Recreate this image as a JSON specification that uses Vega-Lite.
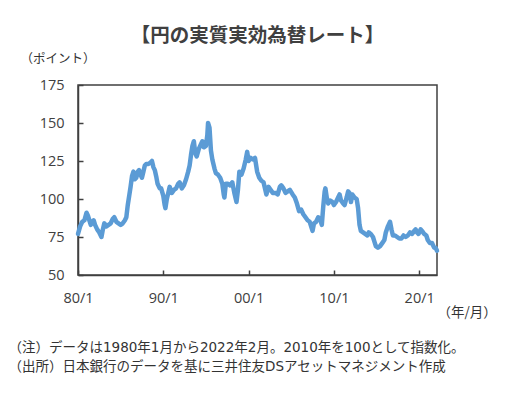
{
  "$schema": "https://vega.github.io/schema/vega-lite/v6.json",
  "width": 359,
  "height": 190,
  "autosize": "none",
  "padding": {"left": 78, "top": 85, "right": 74, "bottom": 121},
  "background": "white",
  "config": {
    "font": "Noto Sans CJK JP",
    "view": {"stroke": "#404040", "strokeWidth": 1.5},
    "axis": {"domainColor": "#404040", "domainWidth": 1.5, "tickColor": "#404040", "tickWidth": 1.5, "grid": false, "labelColor": "#404040", "labelFontSize": 14.5, "labelFont": "Open Sans", "labelFlush": false, "titleFontWeight": "normal", "titleColor": "#333333"}
  },
  "title": {"text": "【円の実質実効為替レート】", "fontSize": 19.5, "fontWeight": "bold", "color": "#404040", "anchor": "middle", "offset": 6},
  "data": {"values": [
    {"date": "1980-01-01", "value": 77},
    {"date": "1980-04-01", "value": 82},
    {"date": "1980-07-01", "value": 85},
    {"date": "1980-10-01", "value": 86},
    {"date": "1981-01-01", "value": 91},
    {"date": "1981-03-01", "value": 89},
    {"date": "1981-05-01", "value": 86},
    {"date": "1981-07-01", "value": 83},
    {"date": "1981-09-01", "value": 85},
    {"date": "1981-11-01", "value": 86},
    {"date": "1982-01-01", "value": 83},
    {"date": "1982-04-01", "value": 80},
    {"date": "1982-07-01", "value": 78},
    {"date": "1982-10-01", "value": 75},
    {"date": "1982-12-01", "value": 80},
    {"date": "1983-02-01", "value": 84},
    {"date": "1983-05-01", "value": 82},
    {"date": "1983-08-01", "value": 83},
    {"date": "1983-11-01", "value": 84},
    {"date": "1984-02-01", "value": 87},
    {"date": "1984-04-01", "value": 88},
    {"date": "1984-07-01", "value": 85},
    {"date": "1984-10-01", "value": 84},
    {"date": "1985-01-01", "value": 83},
    {"date": "1985-04-01", "value": 84},
    {"date": "1985-07-01", "value": 86},
    {"date": "1985-09-01", "value": 88},
    {"date": "1985-11-01", "value": 96},
    {"date": "1986-01-01", "value": 102},
    {"date": "1986-03-01", "value": 108},
    {"date": "1986-05-01", "value": 115},
    {"date": "1986-07-01", "value": 118},
    {"date": "1986-09-01", "value": 113},
    {"date": "1986-11-01", "value": 114},
    {"date": "1987-01-01", "value": 118},
    {"date": "1987-03-01", "value": 119},
    {"date": "1987-05-01", "value": 116},
    {"date": "1987-07-01", "value": 114},
    {"date": "1987-09-01", "value": 118},
    {"date": "1987-11-01", "value": 122},
    {"date": "1988-01-01", "value": 123},
    {"date": "1988-04-01", "value": 123},
    {"date": "1988-07-01", "value": 124},
    {"date": "1988-09-01", "value": 125},
    {"date": "1988-11-01", "value": 121},
    {"date": "1989-01-01", "value": 119},
    {"date": "1989-03-01", "value": 115},
    {"date": "1989-05-01", "value": 110},
    {"date": "1989-08-01", "value": 107},
    {"date": "1989-10-01", "value": 107},
    {"date": "1990-01-01", "value": 102},
    {"date": "1990-03-01", "value": 96},
    {"date": "1990-04-01", "value": 94},
    {"date": "1990-06-01", "value": 100},
    {"date": "1990-08-01", "value": 104},
    {"date": "1990-10-01", "value": 108},
    {"date": "1991-01-01", "value": 104},
    {"date": "1991-04-01", "value": 106},
    {"date": "1991-07-01", "value": 107},
    {"date": "1991-10-01", "value": 110},
    {"date": "1991-12-01", "value": 111},
    {"date": "1992-03-01", "value": 107},
    {"date": "1992-06-01", "value": 109},
    {"date": "1992-09-01", "value": 113},
    {"date": "1992-12-01", "value": 118},
    {"date": "1993-02-01", "value": 122},
    {"date": "1993-04-01", "value": 129},
    {"date": "1993-06-01", "value": 135},
    {"date": "1993-08-01", "value": 138},
    {"date": "1993-10-01", "value": 130},
    {"date": "1993-12-01", "value": 128},
    {"date": "1994-03-01", "value": 133},
    {"date": "1994-06-01", "value": 136},
    {"date": "1994-08-01", "value": 138},
    {"date": "1994-10-01", "value": 134},
    {"date": "1995-01-01", "value": 135},
    {"date": "1995-03-01", "value": 142},
    {"date": "1995-04-01", "value": 150},
    {"date": "1995-06-01", "value": 147},
    {"date": "1995-08-01", "value": 132},
    {"date": "1995-10-01", "value": 126},
    {"date": "1996-01-01", "value": 120},
    {"date": "1996-03-01", "value": 117},
    {"date": "1996-06-01", "value": 116},
    {"date": "1996-09-01", "value": 114},
    {"date": "1996-12-01", "value": 110},
    {"date": "1997-02-01", "value": 103},
    {"date": "1997-03-01", "value": 101},
    {"date": "1997-05-01", "value": 110},
    {"date": "1997-08-01", "value": 110},
    {"date": "1997-11-01", "value": 109},
    {"date": "1998-02-01", "value": 111},
    {"date": "1998-05-01", "value": 104},
    {"date": "1998-08-01", "value": 98},
    {"date": "1998-10-01", "value": 106},
    {"date": "1998-12-01", "value": 118},
    {"date": "1999-03-01", "value": 116},
    {"date": "1999-06-01", "value": 120},
    {"date": "1999-09-01", "value": 126},
    {"date": "1999-11-01", "value": 131},
    {"date": "2000-01-01", "value": 125},
    {"date": "2000-04-01", "value": 127},
    {"date": "2000-07-01", "value": 126},
    {"date": "2000-10-01", "value": 127},
    {"date": "2001-01-01", "value": 118},
    {"date": "2001-04-01", "value": 114},
    {"date": "2001-07-01", "value": 112},
    {"date": "2001-10-01", "value": 111},
    {"date": "2002-02-01", "value": 103},
    {"date": "2002-05-01", "value": 108},
    {"date": "2002-08-01", "value": 106},
    {"date": "2002-11-01", "value": 104},
    {"date": "2003-03-01", "value": 104},
    {"date": "2003-06-01", "value": 103},
    {"date": "2003-09-01", "value": 108},
    {"date": "2003-11-01", "value": 109},
    {"date": "2004-02-01", "value": 107},
    {"date": "2004-05-01", "value": 104},
    {"date": "2004-08-01", "value": 105},
    {"date": "2004-11-01", "value": 106},
    {"date": "2005-03-01", "value": 103},
    {"date": "2005-06-01", "value": 101},
    {"date": "2005-09-01", "value": 97},
    {"date": "2005-12-01", "value": 92},
    {"date": "2006-03-01", "value": 93},
    {"date": "2006-06-01", "value": 90},
    {"date": "2006-09-01", "value": 88},
    {"date": "2006-12-01", "value": 86},
    {"date": "2007-03-01", "value": 85},
    {"date": "2007-05-01", "value": 82},
    {"date": "2007-07-01", "value": 79},
    {"date": "2007-09-01", "value": 84},
    {"date": "2007-12-01", "value": 85},
    {"date": "2008-03-01", "value": 88},
    {"date": "2008-06-01", "value": 86},
    {"date": "2008-08-01", "value": 83},
    {"date": "2008-10-01", "value": 95},
    {"date": "2008-12-01", "value": 105},
    {"date": "2009-01-01", "value": 107},
    {"date": "2009-03-01", "value": 101},
    {"date": "2009-05-01", "value": 97},
    {"date": "2009-08-01", "value": 99},
    {"date": "2009-11-01", "value": 98},
    {"date": "2010-01-01", "value": 96},
    {"date": "2010-04-01", "value": 98},
    {"date": "2010-07-01", "value": 101},
    {"date": "2010-09-01", "value": 103},
    {"date": "2010-11-01", "value": 99},
    {"date": "2011-02-01", "value": 97},
    {"date": "2011-04-01", "value": 96},
    {"date": "2011-07-01", "value": 101},
    {"date": "2011-09-01", "value": 105},
    {"date": "2011-11-01", "value": 104},
    {"date": "2012-01-01", "value": 98},
    {"date": "2012-03-01", "value": 103},
    {"date": "2012-06-01", "value": 101},
    {"date": "2012-09-01", "value": 100},
    {"date": "2012-11-01", "value": 94},
    {"date": "2013-01-01", "value": 83},
    {"date": "2013-03-01", "value": 79},
    {"date": "2013-06-01", "value": 78},
    {"date": "2013-09-01", "value": 77},
    {"date": "2013-12-01", "value": 76},
    {"date": "2014-02-01", "value": 78},
    {"date": "2014-05-01", "value": 77},
    {"date": "2014-08-01", "value": 75},
    {"date": "2014-10-01", "value": 72},
    {"date": "2014-12-01", "value": 69},
    {"date": "2015-03-01", "value": 68},
    {"date": "2015-06-01", "value": 69},
    {"date": "2015-09-01", "value": 71},
    {"date": "2015-12-01", "value": 73},
    {"date": "2016-02-01", "value": 78},
    {"date": "2016-05-01", "value": 82},
    {"date": "2016-08-01", "value": 85},
    {"date": "2016-10-01", "value": 80},
    {"date": "2016-12-01", "value": 76},
    {"date": "2017-03-01", "value": 76},
    {"date": "2017-06-01", "value": 75},
    {"date": "2017-09-01", "value": 74},
    {"date": "2017-12-01", "value": 74},
    {"date": "2018-03-01", "value": 76},
    {"date": "2018-06-01", "value": 75},
    {"date": "2018-09-01", "value": 76},
    {"date": "2018-12-01", "value": 78},
    {"date": "2019-03-01", "value": 77},
    {"date": "2019-06-01", "value": 79},
    {"date": "2019-08-01", "value": 80},
    {"date": "2019-10-01", "value": 78},
    {"date": "2019-12-01", "value": 77},
    {"date": "2020-03-01", "value": 80},
    {"date": "2020-05-01", "value": 79},
    {"date": "2020-08-01", "value": 77},
    {"date": "2020-11-01", "value": 76},
    {"date": "2021-01-01", "value": 73},
    {"date": "2021-04-01", "value": 71},
    {"date": "2021-07-01", "value": 71},
    {"date": "2021-10-01", "value": 68},
    {"date": "2021-12-01", "value": 68},
    {"date": "2022-02-01", "value": 66}
  ]},
  "layer": [
    {
      "mark": {"type": "line", "color": "#5B9BD5", "strokeWidth": 4.5, "strokeJoin": "round", "strokeCap": "round"},
      "encoding": {
        "x": {"field": "date", "type": "temporal",
          "scale": {"type": "utc", "domain": [{"year": 1980, "month": 1, "date": 1, "utc": true}, {"year": 2022, "month": 2, "date": 1, "utc": true}]},
          "axis": {"values": [{"year": 1980, "month": 1, "date": 1, "utc": true}, {"year": 1990, "month": 1, "date": 1, "utc": true}, {"year": 2000, "month": 1, "date": 1, "utc": true}, {"year": 2010, "month": 1, "date": 1, "utc": true}, {"year": 2020, "month": 1, "date": 1, "utc": true}],
            "format": "%y/%-m", "tickSize": -5, "labelPadding": 21,
            "title": ["（注）データは1980年1月から2022年2月。2010年を100として指数化。", "（出所）日本銀行のデータを基に三井住友DSアセットマネジメント作成"],
            "titleFont": "DejaVu Sans, Noto Sans CJK JP",
            "titleX": -70, "titleY": 65, "titleAlign": "left", "titleAnchor": "start", "titleBaseline": "top", "titleFontSize": 13.5, "titleLineHeight": 19, "titleColor": "#333333"}},
        "y": {"field": "value", "type": "quantitative",
          "scale": {"domain": [50, 175], "nice": false, "zero": false},
          "axis": {"values": [50, 75, 100, 125, 150, 175], "tickSize": -5, "labelPadding": 19,
            "title": "（ポイント）", "titleAngle": 0, "titleX": -58, "titleY": -27, "titleAlign": "left", "titleBaseline": "middle", "titleFontSize": 12.5, "titleColor": "#333333"}}
      }
    },
    {
      "mark": {"type": "line", "opacity": 0},
      "encoding": {
        "x": {"field": "date", "type": "temporal"},
        "y": {"field": "value", "type": "quantitative",
          "axis": {"orient": "right", "domain": false, "ticks": false, "labels": false,
            "title": "（年/月）", "titleAngle": 0, "titleX": 0, "titleY": 227, "titleAlign": "left", "titleBaseline": "middle", "titleFontSize": 13.5, "titleColor": "#333333"}}
      }
    }
  ],
  "resolve": {"axis": {"y": "independent"}}
}
